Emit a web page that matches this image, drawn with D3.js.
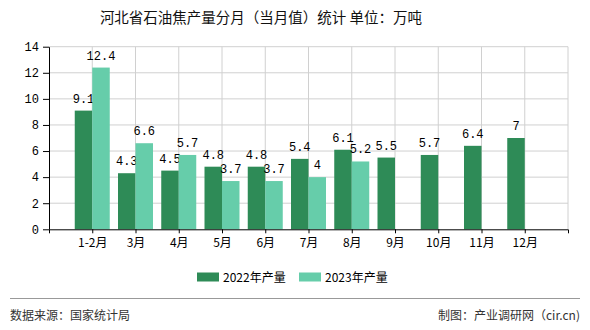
<!DOCTYPE html>
<html><head><meta charset="utf-8">
<script src="https://cdn.jsdelivr.net/npm/d3@7"></script>
<style>body{margin:0;background:#fff}svg{display:block}</style>
</head><body><svg id="c" width="590" height="330"></svg>
<script>
const categories = ["1-2月","3月","4月","5月","6月","7月","8月","9月","10月","11月","12月"];
const v2022 = [9.1,4.3,4.5,4.8,4.8,5.4,6.1,5.5,5.7,6.4,7];
const v2023 = [12.4,6.6,5.7,3.7,3.7,4,5.2];
const seriesNames = ["2022年产量","2023年产量"];
const yTicks = [0,2,4,6,8,10,12,14];
const colors = ["#2e8b57","#66cdaa"];
const fontCJK = "'Noto Sans CJK SC','Noto Sans',sans-serif";
const fontNum = "'Liberation Mono','DejaVu Sans Mono',monospace";

const svg = d3.select("#c");
const L=49,R=568,T=46.7,B=229.3;
const x = d3.scalePoint().domain(categories).range([L,R]).padding(1);
const y = d3.scaleLinear().domain([0,14]).range([B,T]);
const bw = 17.5;

svg.append("text").attr("x",261).attr("y",23).attr("text-anchor","middle")
  .attr("font-family",fontCJK).attr("font-size",14.5).attr("fill","#111")
  .text("河北省石油焦产量分月（当月值）统计 单位：万吨");

// grid
const g = svg.append("g");
g.selectAll("line.h").data(yTicks.filter(d=>d>0)).join("line")
  .attr("x1",L).attr("x2",R).attr("y1",d=>y(d)).attr("y2",d=>y(d))
  .attr("stroke","#d0d0d0").attr("stroke-width",1);
g.selectAll("line.v").data(categories.map(c=>x(c)).concat([R])).join("line")
  .attr("x1",d=>d).attr("x2",d=>d).attr("y1",T).attr("y2",B)
  .attr("stroke","#d0d0d0").attr("stroke-width",1);

// bars
const series = [v2022,v2023];
series.forEach((vals,si)=>{
  const gs = svg.append("g");
  const data = vals.map((v,i)=>({c:categories[i],v}));
  gs.selectAll("rect").data(data).join("rect")
    .attr("x",d=>x(d.c)+(si===0?-bw:0)).attr("width",bw)
    .attr("y",d=>y(d.v)).attr("height",d=>B-y(d.v))
    .attr("fill",colors[si]);
  gs.selectAll("text").data(data).join("text")
    .attr("x",d=>x(d.c)+(si===0?-bw/2:bw/2)).attr("y",d=>y(d.v)-8)
    .attr("text-anchor","middle").attr("font-family",fontNum).attr("font-size",12)
    .attr("fill","#000").text(d=>d.v);
});

// axes
const ya = d3.axisLeft(y).tickValues(yTicks).tickSize(6).tickSizeOuter(0);
const yg = svg.append("g").attr("transform",`translate(${L},0)`).call(ya);
yg.select(".domain").attr("stroke","#000");
yg.selectAll("line").attr("stroke","#000");
yg.selectAll("text").attr("font-family",fontNum).attr("font-size",12).attr("fill","#000").attr("dx",-1);

const xa = d3.axisBottom(x).tickSize(4).tickSizeOuter(4);
const xg = svg.append("g").attr("transform",`translate(0,${B})`).call(xa);
xg.select(".domain").attr("stroke","#000");
xg.selectAll("line").attr("stroke","#000");
xg.selectAll("text").attr("font-family",fontCJK).attr("font-size",12).attr("fill","#000").attr("dy","0.9em");

// legend
const lx=[197,299];
seriesNames.forEach((n,i)=>{
  svg.append("rect").attr("x",lx[i]).attr("y",272.5).attr("width",22).attr("height",9).attr("fill",colors[i]);
  svg.append("text").attr("x",lx[i]+26).attr("y",281.5).attr("font-family",fontCJK)
    .attr("font-size",12).attr("fill","#000").text(n);
});

// footer
svg.append("line").attr("x1",10).attr("x2",580).attr("y1",298.5).attr("y2",298.5).attr("stroke","#999");
svg.append("text").attr("x",10).attr("y",320).attr("font-family",fontCJK).attr("font-size",12).attr("fill","#333").text("数据来源：国家统计局");
svg.append("text").attr("x",580).attr("y",320).attr("text-anchor","end").attr("font-family",fontCJK).attr("font-size",12).attr("fill","#333").text("制图：产业调研网（cir.cn)");
</script></body></html>
